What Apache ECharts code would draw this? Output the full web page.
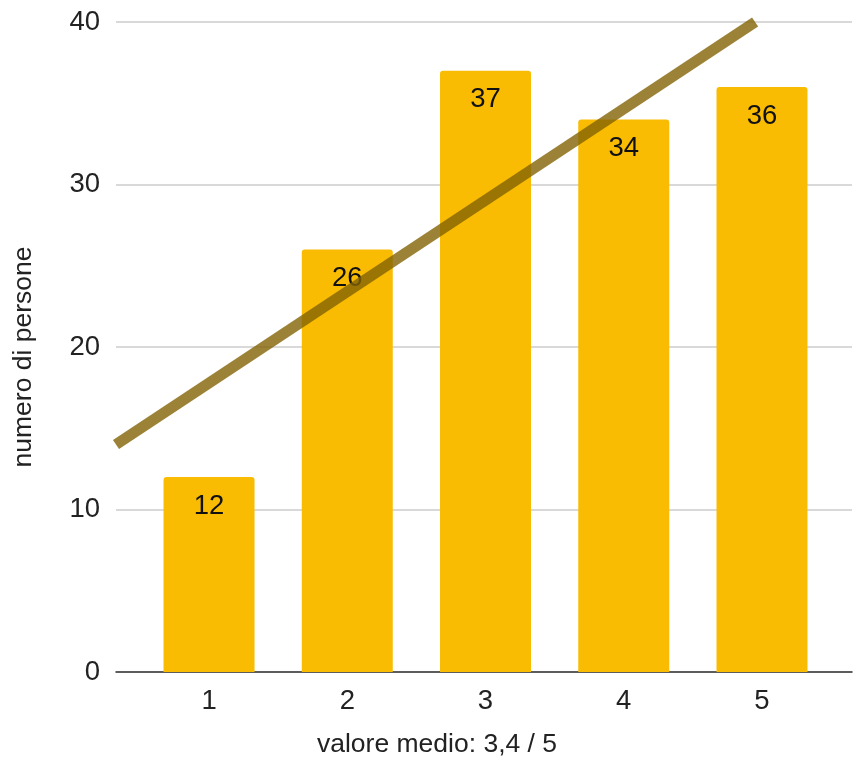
<!DOCTYPE html>
<html>
<head>
<meta charset="utf-8">
<script src="https://cdn.jsdelivr.net/npm/echarts@6/dist/echarts.min.js"></script>
<style>
html,body{margin:0;padding:0;background:#fff;}
#c{width:854px;height:758px;}
</style>
</head>
<body>
<div id="c"></div>
<script>
// Data
const categories = ['1', '2', '3', '4', '5'];
const values = [12, 26, 37, 34, 36];
const yTicks = [0, 10, 20, 30, 40];
// Trendline end points (category position, value)
const trendStart = [0.327, 14.0];
const trendEnd = [4.95, 40];
const xTitle = 'valore medio: 3,4 / 5';
const yTitle = 'numero di persone';

const font = 'Arial, "Liberation Sans", sans-serif';
const chart = echarts.init(document.getElementById('c'), null, {renderer: 'canvas'});

const catPos = categories.map((c, i) => i + 1);

chart.setOption({
  animation: false,
  backgroundColor: '#ffffff',
  grid: {left: 116, right: 2, top: 22, bottom: 86, containLabel: false},
  xAxis: {
    type: 'value',
    min: 0.327,
    max: 5.651,
    splitLine: {show: false},
    axisTick: {show: false},
    axisLine: {show: true, onZero: false, lineStyle: {color: '#333333', width: 1.5}},
    axisLabel: {
      customValues: catPos,
      formatter: v => categories[Math.round(v) - 1],
      color: '#222222',
      fontSize: 27.5,
      fontFamily: font,
      margin: 15
    }
  },
  yAxis: {
    type: 'value',
    min: yTicks[0],
    max: yTicks[yTicks.length - 1],
    interval: 10,
    axisLine: {show: false},
    axisTick: {show: false},
    splitLine: {lineStyle: {color: '#cccccc', width: 1.5}},
    axisLabel: {color: '#222222', fontSize: 27.5, fontFamily: font, margin: 16, padding: [4, 0, 0, 0]}
  },
  graphic: [
    {
      type: 'text',
      x: 24, y: 357,
      rotation: Math.PI / 2,
      style: {text: yTitle, fill: '#222222', font: '26.5px ' + font, textAlign: 'center', textVerticalAlign: 'middle'}
    },
    {
      type: 'text',
      x: 437, y: 745,
      style: {text: xTitle, fill: '#222222', font: '26.5px ' + font, textAlign: 'center', textVerticalAlign: 'middle'}
    }
  ],
  series: [
    {
      type: 'bar',
      data: values.map((v, i) => [catPos[i], v]),
      barWidth: 91,
      itemStyle: {color: '#F9BC03', borderRadius: [3, 3, 0, 0]},
      label: {
        show: true,
        position: 'insideTop',
        distance: 15,
        formatter: p => String(p.value[1]),
        color: '#111111',
        fontSize: 27.5,
        fontFamily: font
      },
      z: 2
    },
    {
      type: 'line',
      data: [trendStart, trendEnd],
      showSymbol: false,
      symbol: 'none',
      lineStyle: {color: 'rgba(130,99,4,0.8)', width: 11, cap: 'butt'},
      z: 3
    }
  ]
});
</script>
</body>
</html>
